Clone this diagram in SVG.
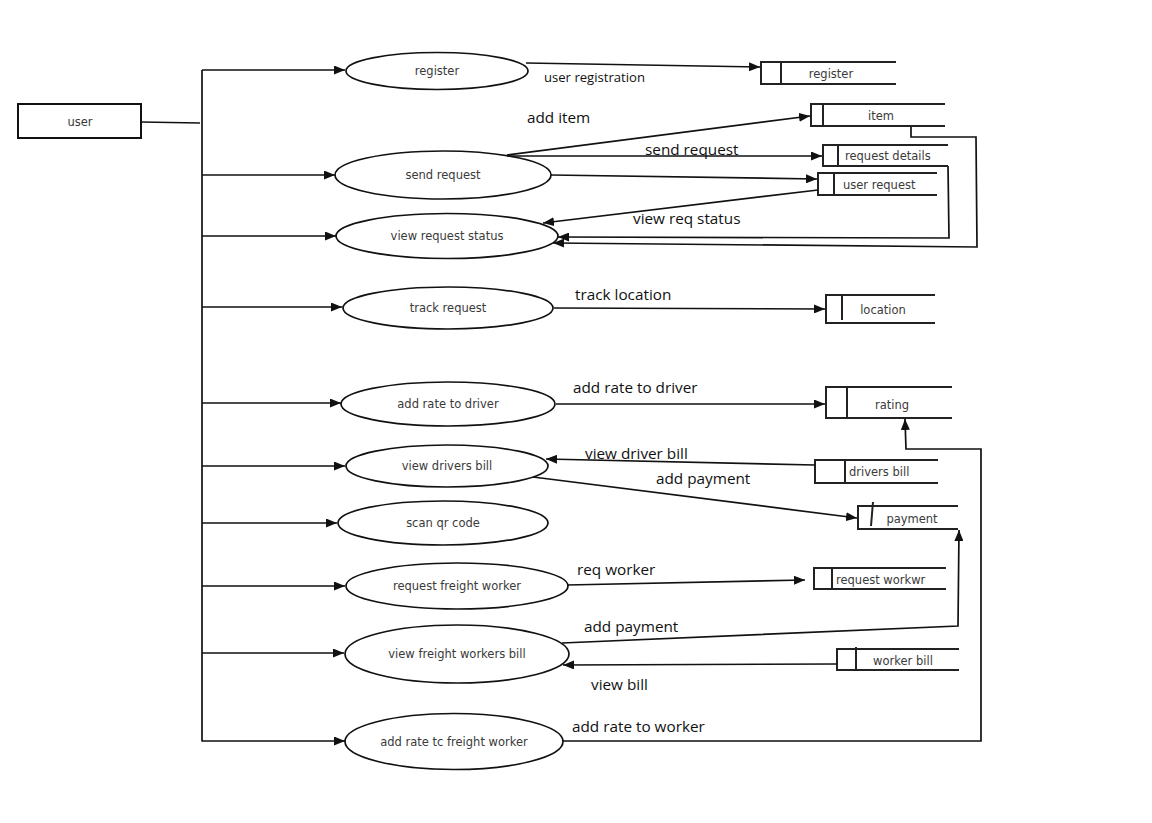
<svg xmlns="http://www.w3.org/2000/svg" width="1152" height="823" viewBox="0 0 1152 823">
  <style>
    .bg { fill: #ffffff; }
    .proc { fill: #ffffff; stroke: #111; stroke-width: 1.7; }
    .ent { fill: #ffffff; stroke: #111; stroke-width: 2; }
    .store { fill: none; stroke: #222; stroke-width: 2; }
    .conn { fill: none; stroke: #111; stroke-width: 1.7; }
    .ntext { font-family: "DejaVu Sans", sans-serif; font-size: 11.5px; fill: #3a3a3a; text-anchor: middle; dominant-baseline: central; }
    .stext { font-family: "DejaVu Sans", sans-serif; font-size: 11.5px; fill: #3a3a3a; dominant-baseline: central; }
    .lbl { font-family: "Open Sans", sans-serif; font-size: 15.3px; fill: #111; }
    .lbl-s { font-family: "Open Sans", sans-serif; font-size: 13.1px; fill: #111; }
  </style>
  <defs>
    <marker id="arrow" markerWidth="11" markerHeight="9" refX="11" refY="4.5" orient="auto" markerUnits="userSpaceOnUse">
      <path d="M0,0 L11,4.5 L0,9 z" fill="#111"/>
    </marker>
  </defs>
  <rect class="bg" x="0" y="0" width="1152" height="823"/>

  <!-- external entity -->
  <g id="user">
    <rect class="ent" x="18" y="104" width="123" height="34"/>
    <text class="ntext" x="80" y="122">user</text>
  </g>

  <!-- processes -->
  <g id="p-register">
    <ellipse class="proc" cx="437" cy="71" rx="91" ry="18.5"/>
    <text class="ntext" x="437" y="71">register</text>
  </g>
  <g id="p-send-request">
    <ellipse class="proc" cx="443" cy="175" rx="108" ry="24"/>
    <text class="ntext" x="443" y="175">send request</text>
  </g>
  <g id="p-view-request-status">
    <ellipse class="proc" cx="447" cy="236" rx="111" ry="22.5"/>
    <text class="ntext" x="447" y="236">view request status</text>
  </g>
  <g id="p-track-request">
    <ellipse class="proc" cx="448" cy="308" rx="105" ry="21"/>
    <text class="ntext" x="448" y="308">track request</text>
  </g>
  <g id="p-add-rate-driver">
    <ellipse class="proc" cx="448" cy="404" rx="107" ry="22"/>
    <text class="ntext" x="448" y="404">add rate to driver</text>
  </g>
  <g id="p-view-drivers-bill">
    <ellipse class="proc" cx="447" cy="466" rx="101" ry="21"/>
    <text class="ntext" x="447" y="466">view drivers bill</text>
  </g>
  <g id="p-scan-qr">
    <ellipse class="proc" cx="443" cy="523" rx="105" ry="22"/>
    <text class="ntext" x="443" y="523">scan qr code</text>
  </g>
  <g id="p-request-freight-worker">
    <ellipse class="proc" cx="457" cy="586" rx="111" ry="23"/>
    <text class="ntext" x="457" y="586">request freight worker</text>
  </g>
  <g id="p-view-freight-workers-bill">
    <ellipse class="proc" cx="457" cy="654" rx="112" ry="29"/>
    <text class="ntext" x="457" y="654">view freight workers bill</text>
  </g>
  <g id="p-add-rate-freight-worker">
    <ellipse class="proc" cx="454" cy="741.5" rx="109" ry="28"/>
    <text class="ntext" x="454" y="741.5">add rate tc freight worker</text>
  </g>

  <!-- data stores -->
  <g id="ds-register">
    <path class="store" d="M896,62 H761 V84 H896 M781,62 V84"/>
    <text class="ntext" x="831" y="74">register</text>
  </g>
  <g id="ds-item">
    <path class="store" d="M945,104 H811 V126 H945 M823,104 V126"/>
    <text class="ntext" x="881" y="116">item</text>
  </g>
  <g id="ds-request-details">
    <path class="store" d="M948,145 H823 V166 H948 M838,145 V166"/>
    <text class="stext" x="845" y="156">request details</text>
  </g>
  <g id="ds-user-request">
    <path class="store" d="M937,173 H818 V195 H937 M834,173 V195"/>
    <text class="stext" x="843" y="185">user request</text>
  </g>
  <g id="ds-location">
    <path class="store" d="M935,295 H826 V323 H935 M842,295 V320"/>
    <text class="ntext" x="883" y="310">location</text>
  </g>
  <g id="ds-rating">
    <path class="store" d="M952,387 H826 V418 H952 M847,387 V418"/>
    <text class="ntext" x="892" y="405">rating</text>
  </g>
  <g id="ds-drivers-bill">
    <path class="store" d="M938,460 H815 V483 H938 M845,460 V483"/>
    <text class="stext" x="849" y="472">drivers bill</text>
  </g>
  <g id="ds-payment">
    <path class="store" d="M958,506 H858 V529 H958 M873,502 L871,526"/>
    <text class="ntext" x="912" y="519">payment</text>
  </g>
  <g id="ds-request-worker">
    <path class="store" d="M946,568 H814 V589 H946 M832,568 V589"/>
    <text class="stext" x="836" y="580">request workwr</text>
  </g>
  <g id="ds-worker-bill">
    <path class="store" d="M959,649 H837 V670 H959 M856,647 V670"/>
    <text class="ntext" x="903" y="661">worker bill</text>
  </g>

  <!-- connectors -->
  <g id="connectors">
    <!-- user to the branch bus -->
    <line class="conn" x1="141" y1="122" x2="200" y2="123"/>
    <line class="conn" x1="202" y1="70" x2="202" y2="741.5"/>
    <line class="conn" x1="202" y1="70" x2="345" y2="70" marker-end="url(#arrow)"/>
    <line class="conn" x1="202" y1="175" x2="335" y2="175" marker-end="url(#arrow)"/>
    <line class="conn" x1="202" y1="236" x2="336" y2="236" marker-end="url(#arrow)"/>
    <line class="conn" x1="202" y1="307" x2="342" y2="307" marker-end="url(#arrow)"/>
    <line class="conn" x1="202" y1="403" x2="341" y2="403" marker-end="url(#arrow)"/>
    <line class="conn" x1="202" y1="466" x2="345" y2="466" marker-end="url(#arrow)"/>
    <line class="conn" x1="202" y1="523" x2="337" y2="523" marker-end="url(#arrow)"/>
    <line class="conn" x1="202" y1="586" x2="345" y2="586" marker-end="url(#arrow)"/>
    <line class="conn" x1="202" y1="653" x2="344" y2="653" marker-end="url(#arrow)"/>
    <line class="conn" x1="202" y1="741" x2="345" y2="741" marker-end="url(#arrow)"/>

    <!-- process to store flows -->
    <line class="conn" x1="526" y1="63" x2="760" y2="67" marker-end="url(#arrow)"/>
    <line class="conn" x1="507" y1="155" x2="810" y2="116" marker-end="url(#arrow)"/>
    <line class="conn" x1="507" y1="156" x2="822" y2="156" marker-end="url(#arrow)"/>
    <line class="conn" x1="551" y1="175" x2="817" y2="179" marker-end="url(#arrow)"/>
    <line class="conn" x1="818" y1="190" x2="543" y2="223" marker-end="url(#arrow)"/>
    <polyline class="conn" points="948,166 949,238 558,237" marker-end="url(#arrow)"/>
    <polyline class="conn" points="911,127 911,137 976,137 977,247 553,243" marker-end="url(#arrow)"/>
    <line class="conn" x1="554" y1="308" x2="825" y2="309" marker-end="url(#arrow)"/>
    <line class="conn" x1="556" y1="404" x2="825" y2="404" marker-end="url(#arrow)"/>
    <line class="conn" x1="815" y1="465" x2="546" y2="459" marker-end="url(#arrow)"/>
    <line class="conn" x1="533" y1="477" x2="857" y2="518" marker-end="url(#arrow)"/>
    <line class="conn" x1="567" y1="585" x2="805" y2="580" marker-end="url(#arrow)"/>
    <polyline class="conn" points="562,643 958,626 959,530" marker-end="url(#arrow)"/>
    <line class="conn" x1="837" y1="664" x2="563" y2="665" marker-end="url(#arrow)"/>
    <polyline class="conn" points="563,741 981,741 981,449 906,449 905,419" marker-end="url(#arrow)"/>
  </g>

  <!-- flow labels -->
  <g id="labels">
    <text class="lbl-s" x="544" y="82">user registration</text>
    <text class="lbl" x="527" y="123">add item</text>
    <text class="lbl" x="645" y="155">send request</text>
    <text class="lbl" x="633" y="224">view req status</text>
    <text class="lbl" x="575" y="300">track location</text>
    <text class="lbl" x="573" y="393">add rate to driver</text>
    <text class="lbl" x="585" y="459">view driver bill</text>
    <text class="lbl" x="656" y="484">add payment</text>
    <text class="lbl" x="577" y="575">req worker</text>
    <text class="lbl" x="584" y="632">add payment</text>
    <text class="lbl" x="591" y="690">view bill</text>
    <text class="lbl" x="572" y="732">add rate to worker</text>
  </g>
</svg>
